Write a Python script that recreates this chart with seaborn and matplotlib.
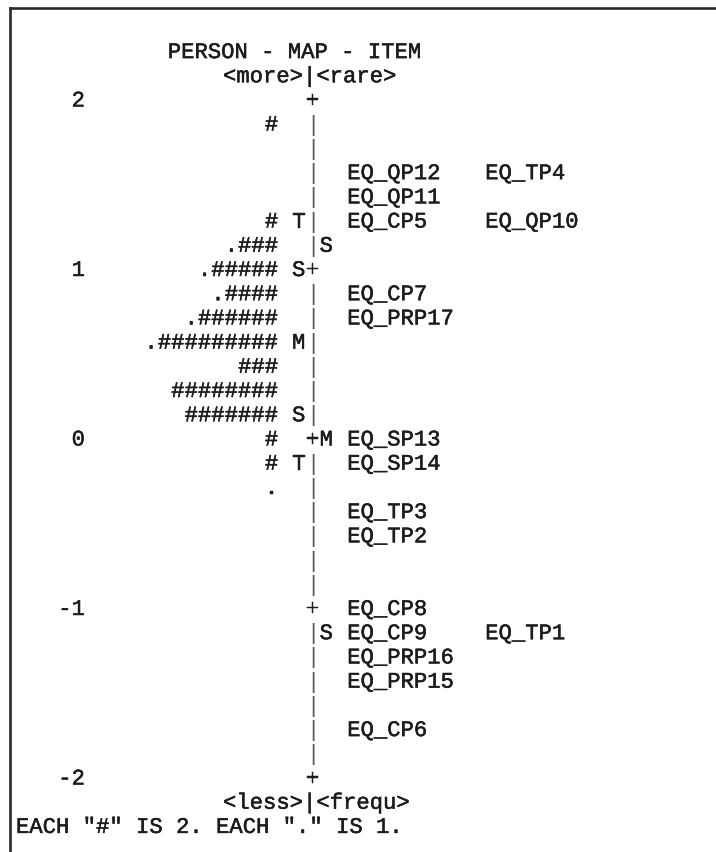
import matplotlib
matplotlib.use("Agg")
import matplotlib.pyplot as plt
import matplotlib.patheffects as pe
import seaborn as sns

# ---------------- data ----------------
title = "PERSON - MAP - ITEM"
top_label = "<more>|<rare>"
bottom_label = "<less>|<frequ>"
footnote = 'EACH "#" IS 2. EACH "." IS 1.'

tick_values = [2, 1, 0, -1, -2]

person_measures = [1.86, 1.29, 1.14, 1.00, 0.86, 0.71, 0.57, 0.43, 0.29, 0.14, 0.00, -0.14, -0.29]
person_counts = [2, 2, 7, 11, 9, 13, 19, 6, 16, 14, 2, 2, 1]

item_names = ["EQ_QP12", "EQ_TP4", "EQ_QP11", "EQ_CP5", "EQ_QP10", "EQ_CP7", "EQ_PRP17",
              "EQ_SP13", "EQ_SP14", "EQ_TP3", "EQ_TP2", "EQ_CP8", "EQ_CP9", "EQ_TP1",
              "EQ_PRP16", "EQ_PRP15", "EQ_CP6"]
item_measures = [1.57, 1.57, 1.43, 1.29, 1.29, 0.86, 0.71,
                 0.00, -0.14, -0.43, -0.57, -1.00, -1.14, -1.14,
                 -1.29, -1.43, -1.71]

person_marker_labels = ["T", "S", "M", "S", "T"]
person_marker_measures = [1.29, 1.00, 0.57, 0.14, -0.14]
item_marker_labels = ["S", "M", "S"]
item_marker_measures = [1.14, 0.00, -1.14]

# ---------------- layout ----------------
ROWS_PER_UNIT = 7
TOP, BOTTOM = max(tick_values), min(tick_values)
COL_W = 13.8      # pixel width of a character column
COL_X0 = 16.0     # pixel x of column 0
PX_PER_UNIT = 169.5
PX_TOP = 100.0    # pixel y of measure TOP

W, H = 716, 852
sns.set_theme(style="white")
plt.rcParams["font.family"] = ["Liberation Mono", "DejaVu Sans Mono"]
FS = 16.0
TXT = "#1c1c1c"
EFFECTS = [pe.withStroke(linewidth=0.35, foreground=TXT)]

fig = plt.figure(figsize=(W / 100, H / 100), dpi=100)
ax_left_px, ax_top_px = 10, 8
ax = fig.add_axes([ax_left_px / W, 0, 1 - ax_left_px / W, 1 - ax_top_px / H])
ax.set_facecolor("white")
ax.set_xlim((ax_left_px - COL_X0) / COL_W, (W - COL_X0) / COL_W)
ax.set_ylim(TOP - (H - PX_TOP) / PX_PER_UNIT, TOP + (PX_TOP - ax_top_px) / PX_PER_UNIT)
ax.set_xticks([])
ax.set_yticks([])
sns.despine(ax=ax, left=False, top=False, right=True, bottom=True)
for s in ("left", "top"):
    ax.spines[s].set_color("#2a2a2a")
    ax.spines[s].set_linewidth(1.9)

# baseline shift so that glyphs are centred on their row
CAP_SHIFT = 6.5 / PX_PER_UNIT


def row_of(m):
    return int(round((TOP - m) * ROWS_PER_UNIT))


def row_y(r):
    return TOP - r / ROWS_PER_UNIT - CAP_SHIFT


def put(col, r, s, ha="left", color=TXT, effects=True):
    x = col if ha == "left" else col + 1  # ha right: right edge of column `col`
    ax.text(x, row_y(r), s, ha=ha, va="baseline", fontsize=FS, color=color,
            path_effects=EFFECTS if effects else None)


# columns
COL_TICK_END = 4
COL_PERSON_END = 18
COL_PMARK = 20
COL_AXIS = 21
COL_IMARK = 22
COL_ITEM = 24
ITEM_COL_STEP = 10

n_rows = (TOP - BOTTOM) * ROWS_PER_UNIT

# header / footer
put(11, -2, title)
put(15, -1, top_label)
put(15, n_rows + 1, bottom_label)
put(0, n_rows + 2, footnote)

# vertical axis built from characters
for r in range(n_rows + 1):
    if r % ROWS_PER_UNIT == 0:
        put(COL_AXIS, r, "+")
    else:
        put(COL_AXIS, r, "|", color="#555555", effects=False)

# tick labels
for v in tick_values:
    put(COL_TICK_END, row_of(v), str(v), ha="right")

# persons
for m, c in zip(person_measures, person_counts):
    s = "." * (c % 2) + "#" * (c // 2)
    put(COL_PERSON_END, row_of(m), s, ha="right")

# markers
for lab, m in zip(person_marker_labels, person_marker_measures):
    put(COL_PMARK, row_of(m), lab)
for lab, m in zip(item_marker_labels, item_marker_measures):
    put(COL_IMARK, row_of(m), lab)

# items
used = {}
for name, m in zip(item_names, item_measures):
    r = row_of(m)
    k = used.get(r, 0)
    put(COL_ITEM + k * ITEM_COL_STEP, r, name)
    used[r] = k + 1

fig.savefig("out.png", dpi=100, facecolor="white")
